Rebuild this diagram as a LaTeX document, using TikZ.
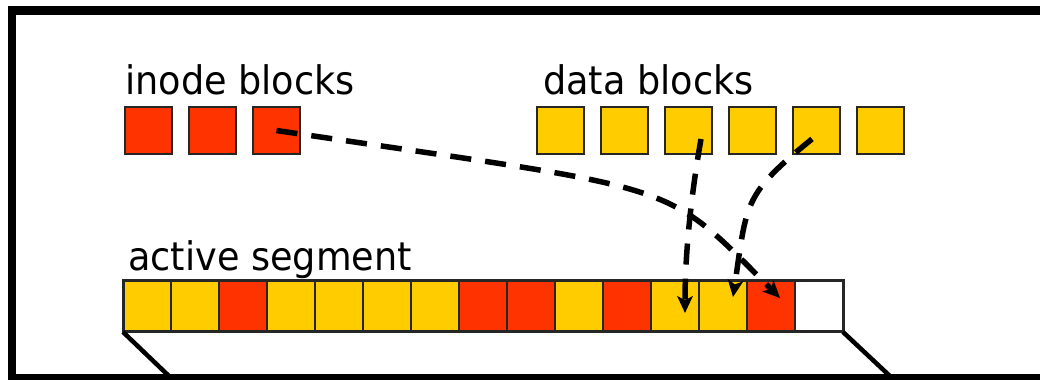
\documentclass[tikz,border=0pt]{standalone}
\usepackage{fontspec}
\setmainfont{DejaVu Sans}[FakeStretch=0.93]
\usetikzlibrary{arrows.meta}

\definecolor{inodered}{HTML}{FF3300}
\definecolor{datayellow}{HTML}{FFCC00}

\tikzset{
  block/.style={draw=black!85, line width=0.05cm, inner sep=0pt, outer sep=0pt, minimum size=1.175cm},
  cell/.style={draw=black!85, line width=0.05cm, inner sep=0pt, outer sep=0pt,
    minimum width=1.2cm, minimum height=1.275cm},
  title/.style={anchor=base west, inner sep=0pt, font=\fontsize{28}{32}\selectfont},
  ptr/.style={line width=0.1375cm, dash pattern=on 15pt off 10pt,
    -{Stealth[length=12pt,width=11pt,inset=3pt]}}
}

\begin{document}
\begin{tikzpicture}
    \clip (0,0) rectangle (26,9.5);

    % Disk frame (runs off the right and bottom edges)
    \draw[line width=0.2125cm] (0.3,0.05) rectangle (27,9.2375);

    % Inode blocks
    \node[title] (inodes) at (3.125,7.125) {inode blocks};
    \foreach \k in {1,2,3}
      \node[block, fill=inodered] (i\k) at ({3.7125+1.6*(\k-1)},6.2375) {};

    % Data blocks
    \node[title] (datas) at (13.575,7.125) {data blocks};
    \foreach \k in {1,...,6}
      \node[block, fill=datayellow] (d\k) at ({14.0125+1.6*(\k-1)},6.2375) {};

    % Active segment
    \node[title] (active) at (3.2,2.725) {active segment};
    \foreach \c [count=\k] in {datayellow,datayellow,inodered,datayellow,datayellow,
        datayellow,datayellow,inodered,inodered,datayellow,inodered,datayellow,
        datayellow,inodered,white}
      \node[cell, fill=\c] (s\k) at ({3.675+1.2*(\k-1)},1.8375) {};
    \draw[line width=0.075cm, black!85] (s1.south west) rectangle (s15.north east);

    % Segment edges down to the disk
    \coordinate (bl) at (4.275,0.05);
    \coordinate (br) at (22.3,0.05);
    \draw[line width=0.1125cm] (s1.south west) -- (bl);
    \draw[line width=0.1125cm] (s15.south east) -- (br);

    % Pointers into the segment
    \draw[ptr] (i3.center) .. controls (17.25,4.7) and (16.5,5.05)
      .. ([xshift=0.225cm,yshift=0.2125cm]s14.center);
    \draw[ptr] ([xshift=0.3125cm,yshift=-0.2125cm]d3.center)
      .. controls (17.3,4.75) and (17.125,3.25)
      .. ([xshift=0.25cm,yshift=-0.1625cm]s12.center);
    \draw[ptr] ([xshift=-0.1125cm,yshift=-0.2125cm]d5.center)
      .. controls (18.575,4.625) and (18.675,4.45)
      .. ([xshift=0.25cm,yshift=0.2375cm]s13.center);
\end{tikzpicture}
\end{document}
